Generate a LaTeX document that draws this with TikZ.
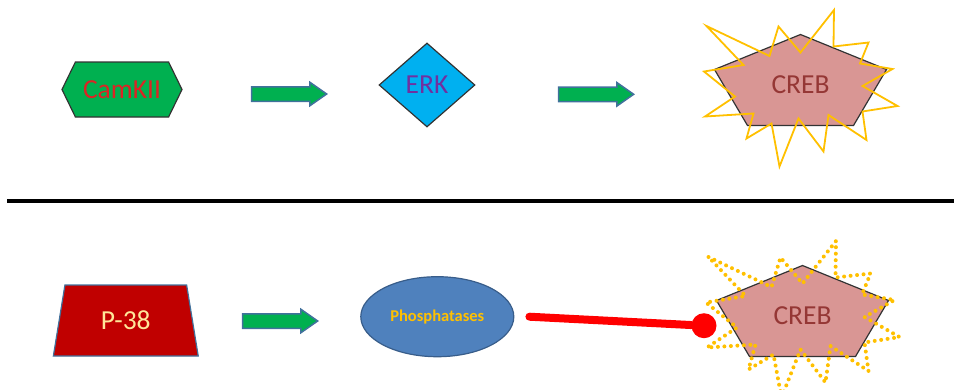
\documentclass[tikz,border=0pt]{standalone}
\usepackage{fontspec}
\setmainfont{Carlito}
\usetikzlibrary{arrows.meta, shapes.geometric, shapes.arrows, shapes.symbols}
\definecolor{kinGreen}{HTML}{00B050}
\definecolor{kinText}{HTML}{DC2424}
\definecolor{erkBlue}{HTML}{00B0F0}
\definecolor{erkText}{HTML}{7030A0}
\definecolor{arrEdge}{HTML}{41719C}
\definecolor{crebPink}{HTML}{D99694}
\definecolor{crebText}{HTML}{953735}
\definecolor{burstGold}{HTML}{FFC000}
\definecolor{p38Red}{HTML}{C00000}
\definecolor{p38Text}{HTML}{FFE699}
\definecolor{phosBlue}{HTML}{4F81BD}
\definecolor{phosEdge}{HTML}{385D8A}
\definecolor{inhibRed}{HTML}{FF0000}
% star outline round a CREB pentagon, relative to its centre
\newcommand{\burstpath}{(-94,-58.5) -- (-31,-28.5) -- (-22,-58) -- (0,-32)
  -- (33.5,-74.5) -- (33,-38) -- (68,-42) -- (59.5,-21) -- (92,-15.5)
  -- (62,1.5) -- (97,21.5) -- (62,27) -- (66,55.5) -- (28,30.5) -- (23,67)
  -- (-2,34) -- (-21,82) -- (-29,39) -- (-54,54) -- (-47,29) -- (-95.5,32)
  -- (-65.5,12) -- (-96.5,-13) -- (-57,-19.5) -- cycle}
\newcommand{\pentapath}{(0,-50) -- (86,-15) -- (53,41) -- (-53,41) -- (-86,-15) -- cycle}

\begin{document}
\begin{tikzpicture}[x=1pt, y=-1pt,
  lbl/.style={font=\fontsize{27.5}{30}\selectfont},
  blockarr/.style={single arrow, draw=arrEdge, fill=kinGreen, line width=1.5pt,
                   minimum height=75pt, inner sep=0pt, inner ysep=6.5pt,
                   single arrow head extend=4.5pt, single arrow tip angle=70},
  penta/.style={draw=black!80, fill=crebPink, line width=1.2pt},
  burst/.style={draw=burstGold, line width=1.8pt},
  dotburst/.style={draw=burstGold, line width=4pt, line cap=round,
                   dash pattern=on 0pt off 6.5pt},
  inhib/.style={draw=inhibRed, line width=8pt, line cap=round}
]
  \useasboundingbox (0,0) rectangle (954,389);

  % activation route
  \node[lbl, signal, signal to=east and west, signal pointer angle=128,
        draw=black!80, fill=kinGreen, text=kinText, line width=1.2pt,
        minimum width=120pt, minimum height=55pt, inner sep=0pt] (camk) at (122,89.5) {CamKII};
  \node[blockarr] (arrA) at (284,94) {};
  \node[lbl, diamond, draw=black!80, fill=erkBlue, text=erkText, line width=1.2pt,
        minimum width=96pt, minimum height=84pt, inner sep=0pt] (erk) at (427,85) {ERK};
  \node[blockarr] (arrB) at (591,94.3) {};
  \coordinate (c1) at (800.5,84.5);
  \begin{scope}[shift={(c1)}]
    \draw[penta] \pentapath;
    \draw[burst] \burstpath;
  \end{scope}
  \node[lbl, text=crebText] (creb1) at (c1) {CREB};

  \draw[line width=4.5pt] (7,201) -- (954,201);

  % inhibition route
  \node[lbl, trapezium, trapezium left angle=76, trapezium right angle=76,
        trapezium stretches=true, draw=arrEdge, fill=p38Red, text=p38Text,
        line width=1.2pt, minimum width=145pt, minimum height=71pt,
        inner sep=0pt] (p38) at (125.8,320.5) {P-38};
  \node[blockarr] (arrC) at (275,321) {};
  \node[ellipse, draw=phosEdge, fill=phosBlue, text=burstGold, line width=1.2pt,
        font=\fontsize{16.5}{20}\selectfont\bfseries, minimum width=153pt,
        minimum height=80pt, inner sep=0pt] (phos) at (437.3,316.7) {Phosphatases};
  \coordinate (c2) at (802.5,315.5);
  \begin{scope}[shift={(c2)}]
    \draw[penta] \pentapath;
    \draw[dotburst] \burstpath;
  \end{scope}
  \node[lbl, text=crebText] (creb2) at (c2) {CREB};
  \node[circle, fill=inhibRed, minimum size=25pt, inner sep=0pt] (knob)
        at ([shift={(-98.5,10.2)}]creb2.center) {};

  \draw[inhib] ([xshift=15pt]phos.east) -- (knob);
\end{tikzpicture}
\end{document}
